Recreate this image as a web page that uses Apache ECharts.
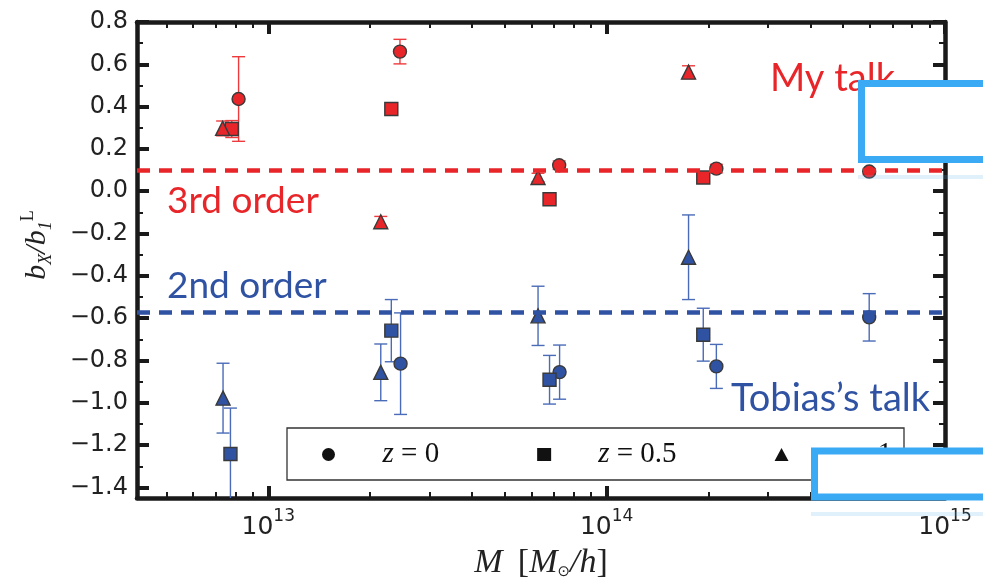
<!DOCTYPE html>
<html>
<head>
<meta charset="utf-8">
<script src="https://cdn.jsdelivr.net/npm/echarts@6/dist/echarts.min.js"></script>
<style>
  html, body { margin: 0; padding: 0; background: #fff; }
  #chart { width: 983px; height: 582px; }
</style>
</head>
<body>
<div id="chart"></div>
<script>
// Halo mass bins [M_sun/h] and measured bias ratios b_X / b_1^L with 1-sigma errors.
// Third-order (red) measurements
const redZ0Mass   = [8.17e12, 2.45e13, 7.24e13, 2.11e14, 5.97e14];
const redZ0Bias   = [0.436, 0.660, 0.123, 0.107, 0.093];
const redZ0Err    = [0.200, 0.058, 0.020, 0.020, 0.015];

const redZ05Mass  = [7.80e12, 2.31e13, 6.78e13, 1.93e14];
const redZ05Bias  = [0.294, 0.389, -0.038, 0.065];
const redZ05Err   = [0.040, 0.010, 0.010, 0.010];

const redZ1Mass   = [7.33e12, 2.15e13, 6.27e13, 1.746e14];
const redZ1Bias   = [0.297, -0.144, 0.065, 0.563];
const redZ1Err    = [0.035, 0.025, 0.020, 0.030];

// Second-order (blue) measurements
const blueZ0Mass  = [2.46e13, 7.26e13, 2.11e14, 5.97e14];
const blueZ0Bias  = [-0.815, -0.855, -0.828, -0.596];
const blueZ0Err   = [0.240, 0.128, 0.104, 0.112];

const blueZ05Mass = [7.73e12, 2.31e13, 6.78e13, 1.93e14];
const blueZ05Bias = [-1.242, -0.659, -0.891, -0.678];
const blueZ05Err  = [0.217, 0.147, 0.115, 0.125];

const blueZ1Mass  = [7.35e12, 2.15e13, 6.27e13, 1.746e14];
const blueZ1Bias  = [-0.978, -0.856, -0.589, -0.312];
const blueZ1Err   = [0.165, 0.134, 0.140, 0.200];

// Reference levels
const thirdOrderLevel  = 0.10;
const secondOrderLevel = -0.57;

// Axis ranges and tick labels
const massRangeLog = [12.612, 15];
const biasRange    = [-1.45, 0.8];
const massDecades  = [13, 14, 15];
const biasTicks    = [-1.4, -1.2, -1.0, -0.8, -0.6, -0.4, -0.2, 0.0, 0.2, 0.4, 0.6, 0.8];
const biasMinorTicks = [-1.3, -1.1, -0.9, -0.7, -0.5, -0.3, -0.1, 0.1, 0.3, 0.5, 0.7];
const legendNames  = ['z = 0', 'z = 0.5', 'z = 1'];

const RED = '#e8262a';
const BLUE = '#2f52a3';
const RED_BAR = '#ee3a3d';
const BLUE_BAR = '#4a6bb8';
const FRAME = '#1a1a1a';

// minor log ticks at 2..9 x 10^n inside the visible range
const massMinorTicks = [];
for (let n = 12; n <= 14; n++) {
  for (let k = 2; k <= 9; k++) {
    const v = Math.log10(k * Math.pow(10, n));
    if (v > massRangeLog[0] && v < massRangeLog[1]) massMinorTicks.push(v);
  }
}

function points(mass, bias) {
  return mass.map((m, i) => [Math.log10(m), bias[i]]);
}
function bars(mass, bias, err) {
  return mass.map((m, i) => [Math.log10(m), bias[i] - err[i], bias[i] + err[i]]);
}

function renderErrorBar(params, api) {
  const x = api.value(0);
  const top = api.coord([x, api.value(2)]);
  const bot = api.coord([x, api.value(1)]);
  const half = 6.5;
  const style = { stroke: api.visual('color'), lineWidth: 1.4 };
  return {
    type: 'group',
    children: [
      { type: 'line', shape: { x1: top[0], y1: top[1], x2: bot[0], y2: bot[1] }, style },
      { type: 'line', shape: { x1: top[0] - half, y1: top[1], x2: top[0] + half, y2: top[1] }, style },
      { type: 'line', shape: { x1: bot[0] - half, y1: bot[1], x2: bot[0] + half, y2: bot[1] }, style }
    ]
  };
}

function errSeries(name, color, data) {
  return {
    name, type: 'custom', renderItem: renderErrorBar, data, clip: true,
    itemStyle: { color }, silent: true, z: 2
  };
}

function markerSeries(name, symbol, size, color, data, extra) {
  return Object.assign({
    name, type: 'scatter', symbol, symbolSize: size, data, z: 3, silent: true,
    itemStyle: { color, borderColor: '#3a3a3a', borderWidth: 1.4, opacity: 1 }
  }, extra || {});
}

function refLine(value, color) {
  return {
    symbol: 'none', silent: true, label: { show: false },
    lineStyle: { color, type: [13, 9], width: 4.5 },
    data: [{ yAxis: value }]
  };
}

const xBase = {
  type: 'value', min: massRangeLog[0], max: massRangeLog[1],
  splitLine: { show: false }
};
const yBase = {
  type: 'value', min: biasRange[0], max: biasRange[1],
  splitLine: { show: false }
};

function frameLine(show) {
  return { show, onZero: false, lineStyle: { color: FRAME, width: 4.5 } };
}

const chart = echarts.init(document.getElementById('chart'), null, { renderer: 'canvas' });

chart.setOption({
  animation: false,
  backgroundColor: '#fff',
  grid: { left: 137, right: 38, top: 22, bottom: 84, outerBoundsMode: 'none', containLabel: false },
  xAxis: [
    Object.assign({}, xBase, {
      position: 'bottom',
      axisLine: frameLine(true),
      axisTick: { show: true, inside: true, length: 12, customValues: massDecades, lineStyle: { color: FRAME, width: 4 } },
      axisLabel: {
        show: true, customValues: massDecades, margin: 10, color: '#222',
        fontFamily: 'DejaVu Sans', fontSize: 25, lineHeight: 32,
        formatter: v => '{b|10}{sup|' + Math.round(v) + '}',
        rich: {
          b: { fontFamily: 'DejaVu Sans', fontSize: 25, lineHeight: 32, verticalAlign: 'bottom', color: '#222' },
          sup: { fontFamily: 'DejaVu Sans', fontSize: 17, verticalAlign: 'top', lineHeight: 16, color: '#222' }
        }
      },
      name: '{i|M} \u2009[{i|M}{sub|\u2299}{i|/h}]',
      nameLocation: 'middle', nameGap: 48,
      nameTextStyle: {
        fontFamily: 'Liberation Serif', fontSize: 34, color: '#222',
        rich: {
          i: { fontFamily: 'Liberation Serif', fontStyle: 'italic', fontSize: 34, color: '#222' },
          sub: { fontFamily: 'DejaVu Sans', fontSize: 15, verticalAlign: 'bottom', lineHeight: 12, color: '#222' }
        }
      }
    }),
    Object.assign({}, xBase, {
      position: 'bottom',
      axisLine: frameLine(false),
      axisTick: { show: true, inside: true, length: 6, customValues: massMinorTicks, lineStyle: { color: FRAME, width: 2 } },
      axisLabel: { show: false }
    }),
    Object.assign({}, xBase, {
      position: 'top',
      axisLine: frameLine(true),
      axisTick: { show: true, inside: true, length: 12, customValues: massDecades, lineStyle: { color: FRAME, width: 4 } },
      axisLabel: { show: false }
    }),
    Object.assign({}, xBase, {
      position: 'top',
      axisLine: frameLine(false),
      axisTick: { show: true, inside: true, length: 6, customValues: massMinorTicks, lineStyle: { color: FRAME, width: 2 } },
      axisLabel: { show: false }
    })
  ],
  yAxis: [
    Object.assign({}, yBase, {
      position: 'left',
      axisLine: frameLine(true),
      axisTick: { show: true, inside: true, length: 12, customValues: biasTicks, lineStyle: { color: FRAME, width: 4 } },
      axisLabel: {
        show: true, customValues: biasTicks, margin: 9, color: '#222',
        fontFamily: 'DejaVu Sans', fontSize: 24,
        formatter: v => (v < -1e-9 ? '\u2212' : '') + Math.abs(v).toFixed(1)
      },
      name: '{i|b}{sub|X}{i|/b}{sub|1}{sup|L}',
      nameLocation: 'middle', nameGap: 82, nameRotate: 90,
      nameTextStyle: {
        fontFamily: 'Liberation Serif', fontSize: 30, color: '#222', padding: [0, 0, 0, 30],
        rich: {
          i: { fontFamily: 'Liberation Serif', fontStyle: 'italic', fontSize: 30, lineHeight: 36, color: '#222' },
          sub: { fontFamily: 'Liberation Serif', fontStyle: 'italic', fontSize: 18, verticalAlign: 'bottom', lineHeight: 18, color: '#222' },
          sup: { fontFamily: 'Liberation Serif', fontSize: 18, verticalAlign: 'top', lineHeight: 18, color: '#222' }
        }
      }
    }),
    Object.assign({}, yBase, {
      position: 'left',
      axisLine: frameLine(false),
      axisTick: { show: true, inside: true, length: 6, customValues: biasMinorTicks, lineStyle: { color: FRAME, width: 2 } },
      axisLabel: { show: false }
    }),
    Object.assign({}, yBase, {
      position: 'right',
      axisLine: frameLine(true),
      axisTick: { show: true, inside: true, length: 12, customValues: biasTicks, lineStyle: { color: FRAME, width: 4 } },
      axisLabel: { show: false }
    }),
    Object.assign({}, yBase, {
      position: 'right',
      axisLine: frameLine(false),
      axisTick: { show: true, inside: true, length: 6, customValues: biasMinorTicks, lineStyle: { color: FRAME, width: 2 } },
      axisLabel: { show: false }
    })
  ],
  legend: {
    show: true, left: 322, top: 440, orient: 'horizontal', padding: 0,
    itemWidth: 14, itemHeight: 13, itemGap: 98, selectedMode: false, z: 5,
    data: [
      { name: legendNames[0], icon: 'circle', itemStyle: { color: '#111', borderWidth: 0 } },
      { name: legendNames[1], icon: 'rect', itemStyle: { color: '#111', borderWidth: 0 } },
      { name: legendNames[2], icon: 'triangle', itemStyle: { color: '#111', borderWidth: 0 } }
    ],
    formatter: name => '{i|z} ' + name.slice(2),
    textStyle: {
      fontFamily: 'Liberation Serif', fontSize: 29, color: '#111',
      rich: { i: { fontFamily: 'Liberation Serif', fontStyle: 'italic', fontSize: 29, color: '#111', padding: [0, 0, 0, 42] } }
    }
  },
  series: [
    errSeries('err-red-z0', RED_BAR, bars(redZ0Mass, redZ0Bias, redZ0Err)),
    errSeries('err-red-z05', RED_BAR, bars(redZ05Mass, redZ05Bias, redZ05Err)),
    errSeries('err-red-z1', RED_BAR, bars(redZ1Mass, redZ1Bias, redZ1Err)),
    errSeries('err-blue-z0', BLUE_BAR, bars(blueZ0Mass, blueZ0Bias, blueZ0Err)),
    errSeries('err-blue-z05', BLUE_BAR, bars(blueZ05Mass, blueZ05Bias, blueZ05Err)),
    errSeries('err-blue-z1', BLUE_BAR, bars(blueZ1Mass, blueZ1Bias, blueZ1Err)),
    markerSeries(legendNames[0], 'circle', 13, RED, points(redZ0Mass, redZ0Bias),
      { markLine: refLine(thirdOrderLevel, RED) }),
    markerSeries(legendNames[1], 'rect', 13, RED, points(redZ05Mass, redZ05Bias)),
    markerSeries(legendNames[2], 'triangle', 14, RED, points(redZ1Mass, redZ1Bias)),
    markerSeries(legendNames[0], 'circle', 13, BLUE, points(blueZ0Mass, blueZ0Bias),
      { markLine: refLine(secondOrderLevel, BLUE) }),
    markerSeries(legendNames[1], 'rect', 13, BLUE, points(blueZ05Mass, blueZ05Bias)),
    markerSeries(legendNames[2], 'triangle', 14, BLUE, points(blueZ1Mass, blueZ1Bias))
  ],
  graphic: [
    // legend frame
    { type: 'rect', z: 4, shape: { x: 287, y: 428, width: 617, height: 52 },
      style: { fill: '#fff', stroke: '#333', lineWidth: 1.3 } },
    // annotations
    { type: 'text', z: 6, x: 770, y: 79,
      style: { text: 'My talk', fill: RED, font: '38px Lato', verticalAlign: 'middle' } },
    { type: 'text', z: 6, x: 167, y: 201,
      style: { text: '3rd order', fill: RED, font: '37px Lato', verticalAlign: 'middle' } },
    { type: 'text', z: 6, x: 167, y: 286,
      style: { text: '2nd order', fill: BLUE, font: '37px Lato', verticalAlign: 'middle' } },
    { type: 'text', z: 6, x: 731, y: 399,
      style: { text: 'Tobias\u2019s talk', fill: BLUE, font: '38px Lato', verticalAlign: 'middle' } },
    // highlight boxes
    { type: 'rect', z: 100, shape: { x: 858, y: 175, width: 140, height: 4 },
      style: { fill: 'rgba(90,175,240,0.18)' } },
    { type: 'rect', z: 101, shape: { x: 861.5, y: 83.5, width: 140, height: 76 },
      style: { fill: '#fff', stroke: '#3aaaf5', lineWidth: 7 } },
    { type: 'rect', z: 100, shape: { x: 811, y: 512, width: 190, height: 4 },
      style: { fill: 'rgba(90,175,240,0.18)' } },
    { type: 'rect', z: 101, shape: { x: 814.5, y: 451, width: 190, height: 46 },
      style: { fill: '#fff', stroke: '#3aaaf5', lineWidth: 7 } }
  ]
});
</script>
</body>
</html>
